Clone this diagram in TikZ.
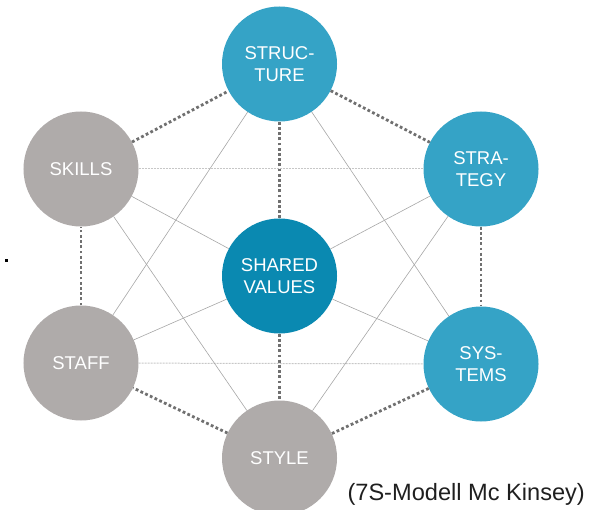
\documentclass[tikz,border=0pt]{standalone}
\usepackage{fontspec}
\setmainfont{Liberation Sans}
\usepackage{tikz}
\usetikzlibrary{shapes,arrows,positioning}

\definecolor{sblue}{HTML}{35A3C6}
\definecolor{sdark}{HTML}{0A89B1}
\definecolor{sgray}{HTML}{AFABAA}
\definecolor{sdots}{HTML}{707070}

\begin{document}
\begin{tikzpicture}[
    x=1bp, y=-1bp,
    hard/.style={circle, fill=sblue, text=white, minimum size=115bp, inner sep=0pt, align=center, font=\fontsize{18.5bp}{21.5bp}\selectfont},
    core/.style={hard, fill=sdark},
    soft/.style={hard, fill=sgray},
    ring/.style={draw=sdots, line width=2.8bp, dash pattern=on 2.8bp off 2.4bp},
    thin/.style={draw=black!35, line width=0.6bp},
    faint/.style={draw=black!22, line width=1bp, dash pattern=on 2bp off 1bp}
]
\useasboundingbox (0,0) rectangle (610,510);
\clip (0,0) rectangle (610,510);

% Elements
\node (struct) [hard] at (279.5,64) {STRUC-\\TURE};
\node (strat)  [hard] at (481,169) {STRA-\\TEGY};
\node (syst)   [hard] at (481,364) {SYS-\\TEMS};
\node (style)  [soft] at (279.5,458) {STYLE};
\node (staff)  [soft] at (81,363) {STAFF};
\node (skills) [soft] at (81,169) {SKILLS};
\node (shared) [core] at (279.5,276) {SHARED\\VALUES};

% Stray mark and caption
\node (dot) [fill=black, minimum size=3bp, inner sep=0pt] at (6.5,260.5) {};
\node (note) [anchor=base west, text=black!88, font=\fontsize{23.6bp}{26bp}\selectfont] at (344,500) {(7S-Modell Mc Kinsey)};

% Outer ring
\draw [ring] (struct) -- (strat);
\draw [ring] (strat) -- (syst);
\draw [ring] (syst) -- (style);
\draw [ring] (style) -- (staff);
\draw [ring] (staff) -- (skills);
\draw [ring] (skills) -- (struct);

% Spokes
\draw [ring] (shared) -- (struct);
\draw [ring] (shared) -- (style);
\draw [thin] (shared) -- (strat);
\draw [thin] (shared) -- (syst);
\draw [thin] (shared) -- (staff);
\draw [thin] (shared) -- (skills);

% Cross links
\draw [faint] (skills) -- (strat);
\draw [faint] (staff) -- (syst);
\draw [thin] (struct) -- (staff);
\draw [thin] (struct) -- (syst);
\draw [thin] (skills) -- (style);
\draw [thin] (strat) -- (style);

\end{tikzpicture}
\end{document}
